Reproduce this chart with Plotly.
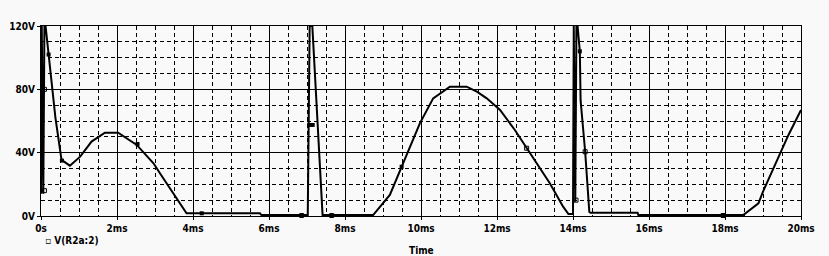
import plotly.graph_objects as go

# Waveform V(R2a:2): time in ms, voltage in V
time_ms = [0.0, 0.02, 0.06, 0.09, 0.12, 0.2, 0.28, 0.38, 0.54, 0.76, 1.03, 1.33, 1.68,
           2.03, 2.52, 2.96, 3.13, 3.5, 3.83, 4.2, 5.0, 5.76, 5.8, 6.7, 7.02, 7.07,
           7.14, 7.41, 7.45, 8.0, 8.74, 9.18, 9.49, 9.97, 10.32, 10.76, 11.2, 11.47,
           11.73, 12.08, 12.47, 12.78, 13.39, 13.74, 13.88, 14.0, 14.02, 14.06, 14.09,
           14.12, 14.18, 14.2, 14.32, 14.43, 14.46, 15.7, 15.72, 18.48, 18.88, 19.0,
           19.49, 19.67, 20.0]
volts = [14.0, 120.0, 14.0, 120.0, 120.0, 102.0, 83.0, 62.0, 35.4, 31.8, 37.5, 47.0, 52.6,
         52.6, 44.9, 33.3, 27.0, 14.0, 1.7, 1.7, 1.7, 1.7, 0.7, 0.7, 0.7, 120.0,
         120.0, 0.7, 0.7, 0.7, 0.6, 13.3, 31.1, 58.5, 74.3, 81.7, 81.7, 78.5,
         74.3, 67.0, 54.3, 42.8, 20.7, 5.9, 1.2, 1.2, 120.0, 9.0, 120.0,
         120.0, 104.0, 73.0, 40.6, 2.5, 2.0, 2.0, 0.6, 0.6, 8.0, 15.4,
         41.7, 51.2, 67.0]

# Data-point markers shown on the trace
filled_t = [0.2, 0.55, 2.54, 4.23, 7.06, 7.15, 9.49, 14.18]
filled_v = [102.0, 35.0, 45.5, 1.7, 57.5, 57.5, 31.1, 104.0]
open_t = [0.09, 0.09, 12.78, 14.08, 14.32, 6.86, 7.65, 17.95]
open_v = [16.0, 80.0, 42.8, 10.0, 40.6, 0.3, 0.3, 0.3]

x_tick_vals = [0, 2, 4, 6, 8, 10, 12, 14, 16, 18, 20]
x_tick_text = ["0s", "2ms", "4ms", "6ms", "8ms", "10ms", "12ms", "14ms", "16ms", "18ms", "20ms"]
y_tick_vals = [0, 40, 80, 120]
y_tick_text = ["0V", "40V", "80V", "120V"]

FONT = "DejaVu Sans Condensed, DejaVu Sans, sans-serif"
BG = "#f9f9f9"

def bold(items):
    return ["<b>%s</b>" % s for s in items]

fig = go.Figure()
fig.add_trace(go.Scatter(x=time_ms, y=volts, mode="lines",
                         line=dict(color="black", width=2), showlegend=False,
                         hoverinfo="skip"))
fig.add_trace(go.Scatter(x=filled_t, y=filled_v, mode="markers",
                         marker=dict(symbol="square", size=4, color="black"),
                         showlegend=False, cliponaxis=False))
fig.add_trace(go.Scatter(x=open_t, y=open_v, mode="markers",
                         marker=dict(symbol="square-open", size=4, color="black",
                                     line=dict(width=1, color="black")),
                         showlegend=False, cliponaxis=False))

axis_common = dict(showline=True, linecolor="black", linewidth=1, mirror=True,
                   showgrid=True, gridcolor="black", gridwidth=1, zeroline=False,
                   ticks="outside", ticklen=3, tickcolor="black", automargin=False,
                   tickfont=dict(family=FONT, size=10, color="black"))

fig.update_xaxes(range=[0, 20], tickvals=x_tick_vals, ticktext=bold(x_tick_text),
                 minor=dict(dtick=0.5, showgrid=True, gridcolor="black",
                            griddash="4px,3px", gridwidth=1),
                 **axis_common)
fig.update_yaxes(range=[0, 120], tickvals=y_tick_vals, ticktext=bold(y_tick_text),
                 minor=dict(dtick=10, showgrid=True, gridcolor="black",
                            griddash="4px,3px", gridwidth=1),
                 **axis_common)

fig.add_annotation(x=0.003, y=0, xref="paper", yref="paper", yshift=-17,
                   text="<b>\u25ab V(R2a:2)</b>", showarrow=False, xanchor="left", yanchor="top",
                   font=dict(family=FONT, size=10, color="black"))
fig.add_annotation(x=0.5, y=0, xref="paper", yref="paper", yshift=-27,
                   text="<b>Time</b>", showarrow=False, xanchor="center", yanchor="top",
                   font=dict(family=FONT, size=10, color="black"))

fig.update_layout(width=829, height=256, margin=dict(l=41, r=28, t=26, b=40),
                  paper_bgcolor=BG, plot_bgcolor=BG, showlegend=False)

fig.write_html("out.html")
